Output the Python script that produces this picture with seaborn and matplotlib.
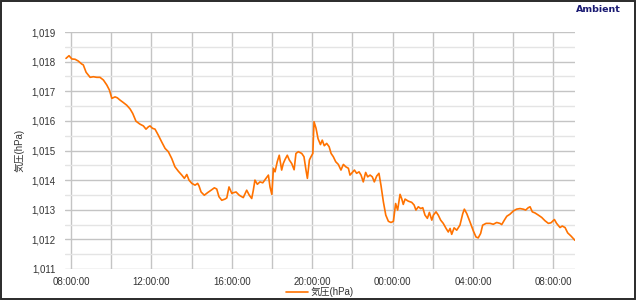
import matplotlib
matplotlib.use("Agg")
import matplotlib.pyplot as plt
import matplotlib.dates as mdates
from matplotlib.ticker import FuncFormatter, MultipleLocator
from matplotlib.patches import Rectangle
import seaborn as sns
import pandas as pd
import numpy as np

# ---- data ----
# hours elapsed since 08:00 on day 1
hours = [
    -0.25, -0.10, 0.04, 0.20, 0.36, 0.53, 0.61, 0.75, 0.95, 1.11, 1.28, 1.44, 1.61, 1.78, 1.91,
    2.03, 2.19, 2.30, 2.44, 2.60, 2.77, 2.94, 3.07, 3.23, 3.43, 3.60, 3.73, 3.85, 3.93, 4.05,
    4.18, 4.34, 4.51, 4.68, 4.84, 5.01, 5.17, 5.34, 5.51, 5.64, 5.76, 5.87, 6.01, 6.17, 6.30,
    6.37, 6.47, 6.63, 6.80, 6.97, 7.13, 7.25, 7.36, 7.50, 7.66, 7.75, 7.86, 8.00, 8.05, 8.21,
    8.37, 8.57, 8.74, 8.87, 8.99, 9.07, 9.15, 9.27, 9.40, 9.54, 9.70, 9.82, 9.90, 9.99, 10.07,
    10.15, 10.26, 10.36, 10.48, 10.56, 10.65, 10.76, 10.86, 10.98, 11.10, 11.19, 11.31, 11.48,
    11.59, 11.69, 11.76, 11.86, 11.94, 12.03, 12.09, 12.19, 12.29, 12.41, 12.50, 12.60, 12.72,
    12.84, 12.94, 13.05, 13.17, 13.30, 13.43, 13.55, 13.67, 13.80, 13.88, 14.00, 14.10, 14.21,
    14.33, 14.43, 14.54, 14.66, 14.76, 14.88, 14.99, 15.09, 15.21, 15.32, 15.42, 15.54, 15.66,
    15.79, 15.92, 16.04, 16.15, 16.25, 16.37, 16.45, 16.53, 16.62, 16.78, 16.95, 17.07, 17.16,
    17.28, 17.40, 17.50, 17.61, 17.73, 17.83, 17.95, 18.03, 18.16, 18.27, 18.39, 18.52, 18.66,
    18.77, 18.86, 18.94, 19.06, 19.19, 19.35, 19.49, 19.57, 19.69, 19.85, 20.02, 20.15, 20.26,
    20.38, 20.48, 20.65, 20.85, 21.01, 21.18, 21.34, 21.43, 21.56, 21.68, 21.84, 22.01, 22.17,
    22.34, 22.50, 22.62, 22.75, 22.84, 22.95, 23.09, 23.25, 23.42, 23.58, 23.75, 23.88, 24.05,
    24.16, 24.33, 24.44, 24.58, 24.71, 24.88, 25.07,
]
pressure = [
    1018.11, 1018.20, 1018.09, 1018.08, 1018.02, 1017.92, 1017.89, 1017.64, 1017.47, 1017.49,
    1017.47, 1017.47, 1017.38, 1017.21, 1017.04, 1016.76, 1016.81, 1016.78, 1016.70, 1016.62,
    1016.53, 1016.40, 1016.25, 1015.99, 1015.89, 1015.83, 1015.72, 1015.80, 1015.83, 1015.75,
    1015.72, 1015.52, 1015.29, 1015.07, 1014.96, 1014.73, 1014.45, 1014.30, 1014.17, 1014.06,
    1014.19, 1014.00, 1013.89, 1013.83, 1013.89, 1013.80, 1013.60, 1013.49, 1013.58, 1013.66,
    1013.74, 1013.70, 1013.44, 1013.32, 1013.36, 1013.40, 1013.77, 1013.55, 1013.57, 1013.60,
    1013.49, 1013.41, 1013.66, 1013.49, 1013.38, 1013.66, 1014.00, 1013.86, 1013.94, 1013.91,
    1014.06, 1014.17, 1013.77, 1013.52, 1014.40, 1014.28, 1014.62, 1014.84, 1014.34, 1014.56,
    1014.70, 1014.84, 1014.68, 1014.56, 1014.35, 1014.90, 1014.96, 1014.90, 1014.79, 1014.34,
    1014.06, 1014.68, 1014.79, 1014.90, 1015.97, 1015.75, 1015.40, 1015.20, 1015.35, 1015.16,
    1015.24, 1015.13, 1014.90, 1014.79, 1014.62, 1014.53, 1014.34, 1014.53, 1014.45, 1014.40,
    1014.17, 1014.26, 1014.34, 1014.23, 1014.28, 1014.17, 1013.94, 1014.26, 1014.11, 1014.17,
    1014.11, 1013.94, 1014.14, 1014.23, 1013.83, 1013.27, 1012.82, 1012.61, 1012.57, 1012.61,
    1013.21, 1012.99, 1013.52, 1013.38, 1013.18, 1013.36, 1013.29, 1013.25, 1013.16, 1012.99,
    1013.10, 1013.04, 1013.07, 1012.82, 1012.71, 1012.91, 1012.65, 1012.82, 1012.93, 1012.82,
    1012.65, 1012.54, 1012.37, 1012.25, 1012.37, 1012.17, 1012.39, 1012.31, 1012.48, 1012.87,
    1013.02, 1012.87, 1012.59, 1012.28, 1012.08, 1012.05, 1012.20, 1012.48, 1012.54, 1012.54,
    1012.51, 1012.57, 1012.54, 1012.50, 1012.65, 1012.78, 1012.85, 1012.96, 1013.02, 1013.04,
    1013.02, 1012.99, 1013.07, 1013.10, 1012.93, 1012.89, 1012.82, 1012.74, 1012.63, 1012.54,
    1012.56, 1012.67, 1012.54, 1012.40, 1012.45, 1012.40, 1012.22, 1012.11, 1011.97,
]
series_label = "気圧(hPa)"
y_label = "気圧(hPa)"
title_text = "Ambient"
y_range = (1011, 1019)

# ---- build frame ----
base = pd.Timestamp("2020-01-01 08:00:00")
df = pd.DataFrame({
    "time": [base + pd.Timedelta(hours=h) for h in hours],
    "pressure": pressure,
})

sns.set_style("white")
plt.rcParams["font.family"] = ["Liberation Sans", "Noto Sans CJK JP"]

fig = plt.figure(figsize=(6.4, 3.01), dpi=100)
ax = fig.add_axes([65 / 640, 1 - 269 / 301, 510 / 640, 237 / 301])

sns.lineplot(data=df, x="time", y="pressure", ax=ax, color="#ff7200",
             linewidth=1.2, label=series_label)

ax.set_xlim(base + pd.Timedelta(hours=-0.30), base + pd.Timedelta(hours=25.075))
ax.set_ylim(*y_range)

ax.xaxis.set_major_locator(mdates.HourLocator(byhour=range(0, 24, 2)))
ax.xaxis.set_minor_locator(mdates.HourLocator(byhour=range(1, 24, 2)))


def xfmt(v, pos=None):
    d = mdates.num2date(v)
    return d.strftime("%H:%M:%S") if d.hour % 4 == 0 else ""


ax.xaxis.set_major_formatter(FuncFormatter(xfmt))
ax.yaxis.set_major_locator(MultipleLocator(1))
ax.yaxis.set_minor_locator(MultipleLocator(0.5))
ax.yaxis.set_major_formatter(FuncFormatter(lambda v, p: f"{v:,.0f}"))

ax.grid(which="major", axis="both", color="#c4c4c4", linewidth=1.0)
ax.grid(which="minor", axis="y", color="#e4e4e4", linewidth=1.0)
ax.set_axisbelow(True)

for s in ax.spines.values():
    s.set_visible(False)

ax.tick_params(axis="x", which="major", length=0, pad=6, labelsize=7, labelcolor="#333333")
ax.tick_params(axis="x", which="minor", length=3, direction="in", color="#aaaaaa", width=0.8)
ax.tick_params(axis="y", which="both", length=0, pad=7, labelsize=7, labelcolor="#333333")

ax.set_xlabel("")
ax.set_ylabel(y_label, fontsize=7, color="#333333", labelpad=5)

leg = ax.legend(loc="center", bbox_to_anchor=(0.5, (1 - 292 / 301 - (1 - 269 / 301)) / (237 / 301)),
                frameon=False, fontsize=7, handlelength=2.2, handletextpad=0.3,
                borderaxespad=0)
for t in leg.get_texts():
    t.set_color("#333333")

fig.text(576 / 640, 1 - 9 / 301, title_text, ha="left", va="center", fontsize=6.8,
         fontweight="bold", color="#1a1a72", family="DejaVu Sans")

fig.patches.append(Rectangle((0.0015, 0.006), 0.9905, 0.992, transform=fig.transFigure,
                             fill=False, edgecolor="#2a2a2a", linewidth=1.4))

fig.savefig("out.png", dpi=100)
